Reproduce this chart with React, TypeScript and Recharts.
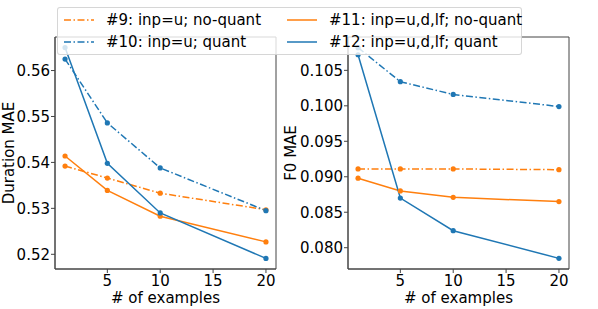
import React from 'react';
import { LineChart, Line, XAxis, YAxis, ReferenceArea } from 'recharts';

const EXAMPLES = [1, 5, 10, 20];
const X_TICKS = [5, 10, 15, 20];
const X_DOMAIN: [number, number] = [0.05, 20.95];

// Duration MAE
const durNoQuantU = [0.5392, 0.5366, 0.5333, 0.5297];
const durQuantU = [0.5625, 0.5486, 0.5388, 0.5295];
const durNoQuantUdlf = [0.5414, 0.5339, 0.5283, 0.5227];
const durQuantUdlf = [0.565, 0.5398, 0.529, 0.5191];
const DUR_TICKS = [0.52, 0.53, 0.54, 0.55, 0.56];

// F0 MAE
const f0NoQuantU = [0.0911, 0.0911, 0.0911, 0.091];
const f0QuantU = [0.1082, 0.1034, 0.1016, 0.0999];
const f0NoQuantUdlf = [0.0898, 0.088, 0.0871, 0.0865];
const f0QuantUdlf = [0.1072, 0.087, 0.0824, 0.0785];
const F0_TICKS = [0.08, 0.085, 0.09, 0.095, 0.1, 0.105];

const SERIES_NAMES = [
  '#9: inp=u; no-quant',
  '#10: inp=u; quant',
  '#11: inp=u,d,lf; no-quant',
  '#12: inp=u,d,lf; quant',
];

const BLUE = '#1f77b4';
const ORANGE = '#ff7f0e';
const SERIES_COLORS = [ORANGE, BLUE, ORANGE, BLUE];
const DASHDOT = '7 2.5 1.5 2.5';
const SERIES_DASH = [DASHDOT, DASHDOT, undefined, undefined];

const FONT = '"DejaVu Sans", sans-serif';
const SPINE = '#444';

const buildRows = (cols: number[][]) =>
  EXAMPLES.map((x, i) => {
    const row: Record<string, number> = { x };
    cols.forEach((c, k) => {
      row[`s${k}`] = c[i];
    });
    return row;
  });

const durRows = buildRows([durNoQuantU, durQuantU, durNoQuantUdlf, durQuantUdlf]);
const f0Rows = buildRows([f0NoQuantU, f0QuantU, f0NoQuantUdlf, f0QuantUdlf]);

const YTitle = (props: any) => {
  const { viewBox, text, bx } = props;
  const cy = viewBox.y + viewBox.height / 2;
  return (
    <text
      x={bx}
      y={cy}
      transform={`rotate(-90, ${bx}, ${cy})`}
      textAnchor="middle"
      fontSize={15}
      fontFamily={FONT}
      fill="#000"
    >
      {text}
    </text>
  );
};

const XTitle = (props: any) => {
  const { viewBox } = props;
  return (
    <text
      x={viewBox.x + viewBox.width / 2}
      y={302.5}
      textAnchor="middle"
      fontSize={15}
      fontFamily={FONT}
      fill="#000"
    >
      # of examples
    </text>
  );
};

interface PanelProps {
  rows: Record<string, number>[];
  width: number;
  yWidth: number;
  rightMargin: number;
  domain: [number, number];
  ticks: number[];
  digits: number;
  title: string;
  titleX: number;
}

const Panel: React.FC<PanelProps> = ({ rows, width, yWidth, rightMargin, domain, ticks, digits, title, titleX }) => (
  <LineChart
    width={width}
    height={309}
    data={rows}
    margin={{ top: 37, right: rightMargin, left: 0, bottom: 0 }}
  >
    <XAxis
      dataKey="x"
      type="number"
      domain={X_DOMAIN}
      ticks={X_TICKS}
      height={40}
      tickSize={4}
      tickMargin={2}
      stroke={SPINE}
      tick={{ fill: '#000', fontSize: 15, fontFamily: FONT }}
      label={<XTitle />}
    />
    <YAxis
      type="number"
      domain={domain}
      ticks={ticks}
      width={yWidth}
      tickSize={4}
      tickMargin={1}
      stroke={SPINE}
      tickFormatter={(v: number) => v.toFixed(digits)}
      tick={{ fill: '#000', fontSize: 15, fontFamily: FONT }}
      label={<YTitle text={title} bx={titleX} />}
    />
    <ReferenceArea
      x1={X_DOMAIN[0]}
      x2={X_DOMAIN[1]}
      y1={domain[0]}
      y2={domain[1]}
      fill="none"
      fillOpacity={0}
      stroke={SPINE}
      strokeWidth={1}
      strokeOpacity={1}
    />
    {SERIES_NAMES.map((name, k) => (
      <Line
        key={name}
        dataKey={`s${k}`}
        name={name}
        type="linear"
        stroke={SERIES_COLORS[k]}
        strokeWidth={1.5}
        strokeDasharray={SERIES_DASH[k]}
        dot={{ r: 2.6, fill: SERIES_COLORS[k], stroke: SERIES_COLORS[k], strokeWidth: 0 }}
        isAnimationActive={false}
      />
    ))}
  </LineChart>
);

const LegendBox = () => {
  const spots = [
    { left: 6, top: 2 },
    { left: 6, top: 23.5 },
    { left: 229, top: 2 },
    { left: 229, top: 23.5 },
  ];
  return (
    <div
      style={{
        position: 'absolute',
        left: 57,
        top: 7,
        width: 465,
        height: 48,
        boxSizing: 'border-box',
        border: '1px solid rgba(204,204,204,0.8)',
        borderRadius: 3,
        background: 'rgba(255,255,255,0.8)',
        zIndex: 5,
        fontFamily: FONT,
        fontSize: 15,
      }}
    >
      {SERIES_NAMES.map((name, k) => (
        <div
          key={name}
          style={{ position: 'absolute', left: spots[k].left, top: spots[k].top, height: 20, display: 'flex', alignItems: 'center', whiteSpace: 'nowrap' }}
        >
          <svg width={30} height={20} style={{ display: 'block' }}>
            <line x1={0} y1={10} x2={30} y2={10} stroke={SERIES_COLORS[k]} strokeWidth={1.5} strokeDasharray={SERIES_DASH[k]} />
          </svg>
          <span style={{ marginLeft: 12, lineHeight: '20px', color: '#000' }}>{name}</span>
        </div>
      ))}
    </div>
  );
};

export default function App() {
  return (
    <div style={{ position: 'absolute', left: 0, top: 0, width: 598, height: 309, background: '#fff', overflow: 'hidden' }}>
      <div style={{ position: 'absolute', left: 0, top: 0 }}>
        <Panel rows={durRows} width={280} yWidth={55} rightMargin={4} domain={[0.5168, 0.5673]} ticks={DUR_TICKS} digits={2} title="Duration MAE" titleX={13.5} />
      </div>
      <div style={{ position: 'absolute', left: 278, top: 0 }}>
        <Panel rows={f0Rows} width={320} yWidth={70} rightMargin={29} domain={[0.077, 0.1097]} ticks={F0_TICKS} digits={3} title="F0 MAE" titleX={17.5} />
      </div>
      <LegendBox />
    </div>
  );
}
